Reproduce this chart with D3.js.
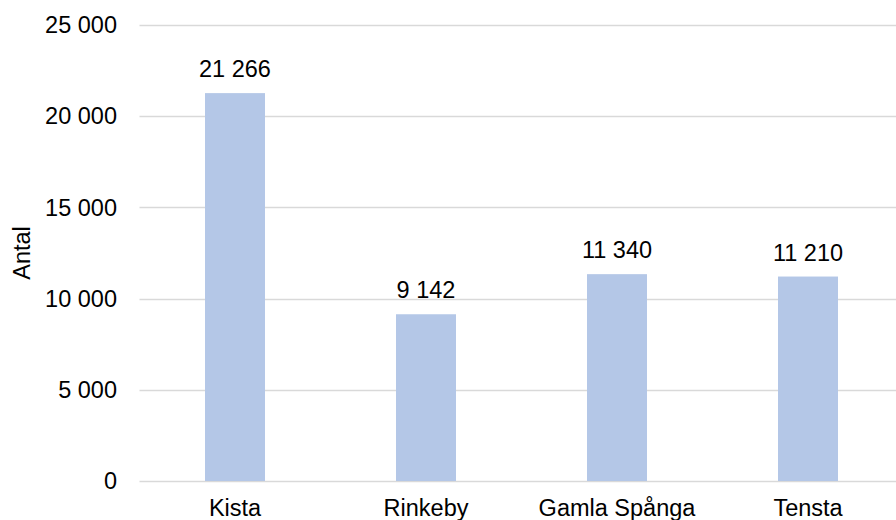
<!DOCTYPE html>
<html>
<head>
<meta charset="utf-8">
<script src="https://cdn.jsdelivr.net/npm/d3@7"></script>
<style>
  body { margin: 0; background: #fff; }
  text { font-family: "Liberation Sans", Arial, sans-serif; fill: #000; }
</style>
</head>
<body>
<div id="chart"></div>
<script>
// stadsdelar och antal
let categories = ["Kista", "Rinkeby", "Gamla Spånga", "Tensta"];
let values = [21266, 9142, 11340, 11210];
let yTicks = [0, 5000, 10000, 15000, 20000, 25000];

let width = 896, height = 520;
let margin = {left: 139.5, right: -7.5, top: 25, bottom: 39};
let fontSize = 23.5;

let fmt = function(v){ return d3.format(",")(v).replace(/,/g, " "); };

let svg = d3.select("#chart").append("svg")
    .attr("width", width)
    .attr("height", height);

let x = d3.scaleBand()
    .domain(categories)
    .range([margin.left, width - margin.right])
    .paddingInner(0.686)
    .paddingOuter(0.343);

let y = d3.scaleLinear()
    .domain([0, 25000])
    .range([height - margin.bottom, margin.top]);

// gridlines
svg.append("g").selectAll("line")
    .data(yTicks)
    .enter().append("line")
    .attr("x1", margin.left)
    .attr("x2", width)
    .attr("y1", function(d){ return Math.round(y(d)) + 0.5; })
    .attr("y2", function(d){ return Math.round(y(d)) + 0.5; })
    .attr("stroke", "#d9d9d9")
    .attr("stroke-width", 1.5);

// y tick labels
svg.append("g").selectAll("text")
    .data(yTicks)
    .enter().append("text")
    .attr("x", 117)
    .attr("y", function(d){ return y(d); })
    .attr("dy", "0.35em")
    .attr("text-anchor", "end")
    .attr("font-size", fontSize)
    .text(fmt);

// bars
svg.append("g").selectAll("rect")
    .data(values)
    .enter().append("rect")
    .attr("x", function(d, i){ return x(categories[i]); })
    .attr("width", x.bandwidth())
    .attr("y", function(d){ return y(d); })
    .attr("height", function(d){ return y(0) - y(d); })
    .attr("fill", "#b4c7e7");

// value labels
svg.append("g").selectAll("text")
    .data(values)
    .enter().append("text")
    .attr("x", function(d, i){ return x(categories[i]) + x.bandwidth()/2; })
    .attr("y", function(d){ return y(d) - 16; })
    .attr("text-anchor", "middle")
    .attr("font-size", fontSize)
    .text(fmt);

// category labels
svg.append("g").selectAll("text")
    .data(categories)
    .enter().append("text")
    .attr("x", function(d){ return x(d) + x.bandwidth()/2; })
    .attr("y", 516)
    .attr("text-anchor", "middle")
    .attr("font-size", fontSize)
    .text(function(d){ return d; });

// y axis title
svg.append("text")
    .attr("transform", "translate(30," + ((margin.top + height - margin.bottom)/2) + ") rotate(-90)")
    .attr("text-anchor", "middle")
    .attr("font-size", fontSize)
    .text("Antal");
</script>
</body>
</html>
